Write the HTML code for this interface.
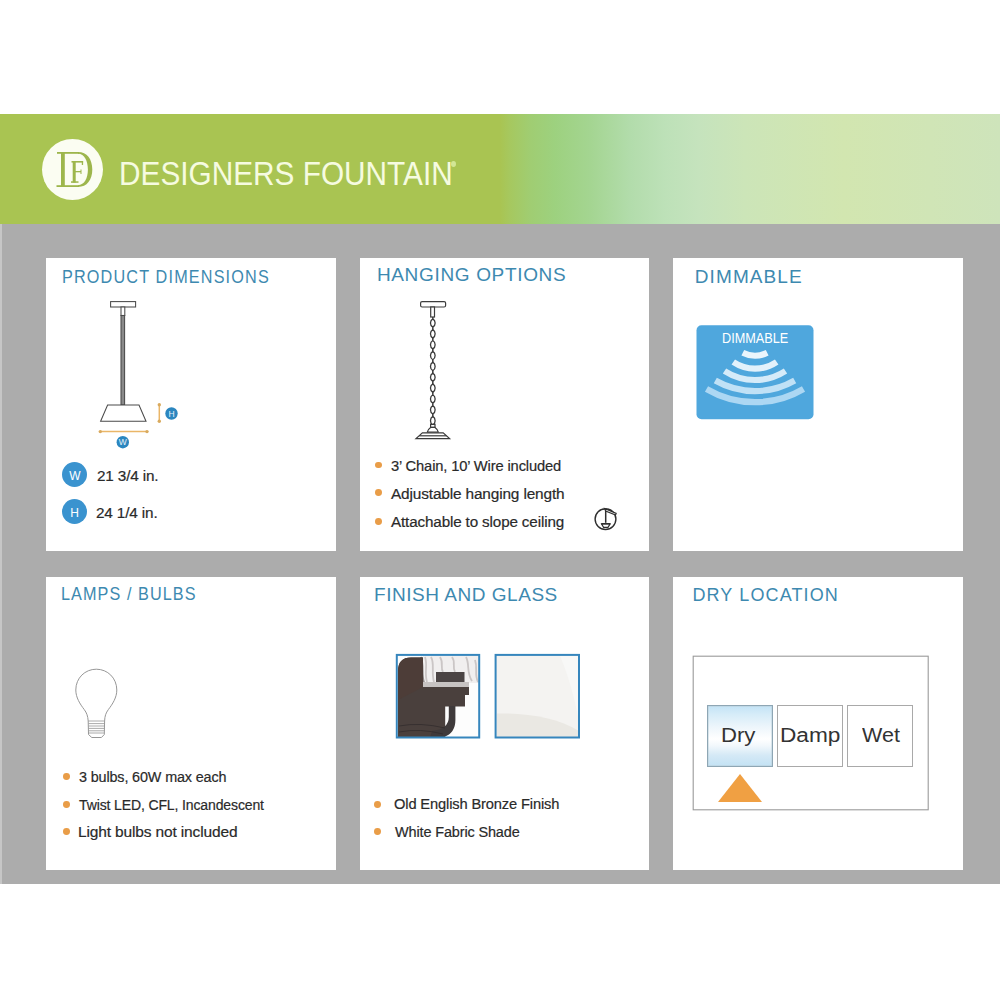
<!DOCTYPE html>
<html><head><meta charset="utf-8">
<style>
html,body{margin:0;padding:0;}
body{width:1000px;height:1000px;position:relative;overflow:hidden;background:#fff;font-family:"Liberation Sans",sans-serif;}
.abs{position:absolute;}
#banner{left:0;top:114px;width:1000px;height:110px;
background:linear-gradient(90deg,#a9c452 0px,#a9c452 500px,#a6c85f 510px,#a0cd72 530px,#9dd17f 555px,#a4d591 590px,#b2dcab 630px,#bde1b8 665px,#c5e3bd 698px,#cce5b8 745px,#d2e6b0 844px,#d0e5b6 930px,#cee4bb 1000px);}
#gray{left:0;top:224px;width:1000px;height:660px;background:#acacac;}
.card{position:absolute;background:#fff;width:290px;height:293px;}
.t{position:absolute;color:#3d89b0;font-size:19px;white-space:nowrap;line-height:1;transform-origin:0 0;}
.txt{position:absolute;color:#2a2a2a;-webkit-text-stroke:0.2px #2a2a2a;font-size:15.5px;white-space:nowrap;line-height:1;transform-origin:0 0;}
.dot{position:absolute;width:6.8px;height:6.8px;border-radius:50%;background:#e99d48;}
svg{position:absolute;left:0;top:0;}
</style></head><body>
<div id="banner" class="abs"></div>
<div id="gray" class="abs"></div>

<!-- logo -->
<div class="abs" style="left:42px;top:139px;width:61px;height:61px;border-radius:50%;background:#fbfdf2;"></div>
<div class="abs" id="brand" style="left:119px;top:157px;font-size:33px;color:#f6fbe0;white-space:nowrap;line-height:1;transform-origin:0 0;transform:scaleX(0.9026);">DESIGNERS FOUNTAIN</div>

<div class="abs" style="left:451px;top:161px;width:5px;height:6px;border-radius:50%;background:#d6ea9c;opacity:0.9;"></div>
<div class="abs" style="left:0;top:224px;width:1.5px;height:660px;background:#c6c6c6;"></div>
<!-- cards -->
<div class="card" style="left:46px;top:258px;"></div>
<div class="card" style="left:360px;top:258px;width:289px;"></div>
<div class="card" style="left:673px;top:258px;"></div>
<div class="card" style="left:46px;top:577px;"></div>
<div class="card" style="left:360px;top:577px;width:289px;"></div>
<div class="card" style="left:673px;top:577px;"></div>

<div class="t" id="t1" style="left:62.00px;top:268.2px;font-size:18px;letter-spacing:1.294px;transform:scaleX(0.9);">PRODUCT DIMENSIONS</div>
<div class="t" id="t2" style="left:376.90px;top:265.0px;letter-spacing:0.665px;">HANGING OPTIONS</div>
<div class="t" id="t3" style="left:694.80px;top:266.6px;letter-spacing:1.085px;">DIMMABLE</div>
<div class="t" id="t4" style="left:61.20px;top:584.5px;font-size:18px;letter-spacing:1.200px;transform:scaleX(0.9);">LAMPS / BULBS</div>
<div class="t" id="t5" style="left:374.00px;top:585.4px;letter-spacing:0.533px;">FINISH AND GLASS</div>
<div class="t" id="t6" style="left:692.40px;top:585.6px;font-size:18px;letter-spacing:1.126px;">DRY LOCATION</div>

<!-- card1 text -->
<div class="abs" style="left:62px;top:462px;width:25px;height:25px;border-radius:50%;background:#3a93cf;"></div>
<div class="abs" style="left:62px;top:499px;width:25px;height:25px;border-radius:50%;background:#3a93cf;"></div>
<div class="abs" style="left:62.5px;top:469.5px;width:25px;text-align:center;color:#fff;font-size:12px;line-height:1;">W</div>
<div class="abs" style="left:62px;top:507px;width:25px;text-align:center;color:#fff;font-size:12px;line-height:1;">H</div>
<div class="txt" id="b1" style="left:96.60px;top:468.2px;letter-spacing:-0.15px;transform:scaleX(0.9870);">21 3/4 in.</div>
<div class="txt" id="b2" style="left:95.82px;top:505.2px;letter-spacing:-0.15px;transform:scaleX(0.9884);">24 1/4 in.</div>

<!-- card2 text -->
<div class="txt" id="b3" style="left:391.00px;top:457.6px;letter-spacing:-0.15px;transform:scaleX(0.9497);">3’ Chain, 10’ Wire included</div>
<div class="txt" id="b4" style="left:391.00px;top:486.0px;letter-spacing:-0.15px;transform:scaleX(0.9932);">Adjustable hanging length</div>
<div class="txt" id="b5" style="left:391.00px;top:514.0px;letter-spacing:-0.15px;transform:scaleX(0.9829);">Attachable to slope ceiling</div>

<!-- card4 text -->
<div class="txt" id="b6" style="left:78.84px;top:769.0px;letter-spacing:-0.15px;transform:scaleX(0.9279);">3 bulbs, 60W max each</div>
<div class="txt" id="b7" style="left:78.86px;top:796.5px;letter-spacing:-0.15px;transform:scaleX(0.9049);">Twist LED, CFL, Incandescent</div>
<div class="txt" id="b8" style="left:77.79px;top:824.0px;letter-spacing:-0.15px;transform:scaleX(1.0007);">Light bulbs not included</div>

<!-- card5 text -->
<div class="txt" id="b9" style="left:394.05px;top:796.4px;letter-spacing:-0.15px;transform:scaleX(0.9469);">Old English Bronze Finish</div>
<div class="txt" id="b10" style="left:394.61px;top:824.0px;letter-spacing:-0.15px;transform:scaleX(0.9338);">White Fabric Shade</div>

<div class="dot" style="left:374.9px;top:461.7px;"></div>
<div class="dot" style="left:374.9px;top:489.2px;"></div>
<div class="dot" style="left:374.9px;top:517.9px;"></div>
<div class="dot" style="left:63.1px;top:772.9px;"></div>
<div class="dot" style="left:63.1px;top:800.9px;"></div>
<div class="dot" style="left:63.1px;top:827.8px;"></div>
<div class="dot" style="left:374.1px;top:801.0px;"></div>
<div class="dot" style="left:374.4px;top:828.1px;"></div>
<!-- card6 -->

<div class="abs" style="left:707px;top:705px;width:64px;height:60px;border:1px solid #8ea6b4;box-shadow:inset 0 0 0 0.5px #b9cdd8;background:linear-gradient(180deg,#c3e3f6 0%,#d6ecf8 14%,#ecf5fb 34%,#ffffff 55%,#f2f8fc 66%,#d5e9f6 82%,#c3e2f4 100%);"></div>
<div class="abs" style="left:777px;top:705px;width:64px;height:60px;border:1px solid #a9a9a9;"></div>
<div class="abs" style="left:847px;top:705px;width:64px;height:60px;border:1px solid #a9a9a9;"></div>
<div class="txt" id="d1" style="left:720.8px;top:725px;font-size:20px;color:#333;letter-spacing:0px;transform:scaleX(1.107);-webkit-text-stroke:0px;">Dry</div>
<div class="txt" id="d2" style="left:780.2px;top:725px;font-size:20px;color:#333;letter-spacing:0px;transform:scaleX(1.133);-webkit-text-stroke:0px;">Damp</div>
<div class="txt" id="d3" style="left:862.2px;top:725px;font-size:20px;color:#333;letter-spacing:0px;transform:scaleX(1.076);-webkit-text-stroke:0px;">Wet</div>
<svg width="1000" height="1000" viewBox="0 0 1000 1000">
  <!-- logo DF -->
  <g fill="#9db64c">
    <rect x="61" y="152.5" width="3.8" height="34.5"/>
    <rect x="57" y="152" width="22" height="1.8"/>
    <rect x="56.5" y="185.2" width="22.5" height="1.8"/>
    <path d="M78,152 C87,152 92.3,159 92.3,169.6 C92.3,180 87,187 78,187 L78,185.2 C84.5,185.2 87.9,178 87.9,169.6 C87.9,161 84.5,153.8 78,153.8 Z"/>
    <rect x="72.7" y="161" width="3" height="21.6"/>
    <rect x="71.5" y="161" width="11.6" height="1.6"/>
    <rect x="81.8" y="161" width="1.3" height="4"/>
    <rect x="74" y="171" width="7" height="1.3"/>
    <rect x="80.5" y="169.5" width="1" height="4.5"/>
    <rect x="71" y="181.3" width="7.5" height="1.5"/>
  </g>
  <!-- card1 pendant -->
  <g stroke="#4a4a4a" stroke-width="1.05" fill="#fff">
    <rect x="110.6" y="301.6" width="25" height="5.4"/>
    <rect x="121" y="307" width="3.8" height="8.5"/>
    <rect x="121" y="315.5" width="3.6" height="89.5" fill="#8a8a8a"/>
    <polygon points="107.6,405 139,405 146,421.2 100.6,421.2"/>
  </g>
  <g stroke="#eab668" stroke-width="1.5">
    <line x1="159.3" y1="404.5" x2="159.3" y2="421.5"/>
    <line x1="100" y1="431.6" x2="147.3" y2="431.6"/>
  </g>
  <g fill="#d9aa5e">
    <circle cx="159.3" cy="404.8" r="1.7"/>
    <circle cx="159.3" cy="421.2" r="1.7"/>
    <circle cx="100.3" cy="431.6" r="1.7"/>
    <circle cx="147" cy="431.6" r="1.7"/>
  </g>
  <circle cx="171.5" cy="413.5" r="6.2" fill="#2b86bf"/>
  <circle cx="122.8" cy="442.2" r="6.2" fill="#2b86bf"/>
  <text x="171.5" y="416.6" font-size="8.5" fill="#e6f2fa" text-anchor="middle" font-family="Liberation Sans">H</text>
  <text x="122.8" y="445.3" font-size="8.5" fill="#e6f2fa" text-anchor="middle" font-family="Liberation Sans">W</text>
  <!-- card2 chain pendant -->
  <g stroke="#3d3d3d" stroke-width="1.2" fill="#fff">
    <rect x="420.6" y="301.6" width="25" height="5.4" rx="1.5"/>
    <rect x="430.7" y="307" width="3.8" height="10"/>
  </g>
  <path d="M432.8,318.80 C435.9,320.40 435.9,325.60 432.8,327.20 C429.7,325.60 429.7,320.40 432.8,318.80 Z" fill="none" stroke="#3a3a3a" stroke-width="1.3"/><line x1="432.8" y1="327.20" x2="432.8" y2="329.65" stroke="#3a3a3a" stroke-width="1.5"/><path d="M432.8,329.65 C435.9,331.25 435.9,336.45 432.8,338.05 C429.7,336.45 429.7,331.25 432.8,329.65 Z" fill="none" stroke="#3a3a3a" stroke-width="1.3"/><line x1="432.8" y1="338.05" x2="432.8" y2="340.50" stroke="#3a3a3a" stroke-width="1.5"/><path d="M432.8,340.50 C435.9,342.10 435.9,347.30 432.8,348.90 C429.7,347.30 429.7,342.10 432.8,340.50 Z" fill="none" stroke="#3a3a3a" stroke-width="1.3"/><line x1="432.8" y1="348.90" x2="432.8" y2="351.35" stroke="#3a3a3a" stroke-width="1.5"/><path d="M432.8,351.35 C435.9,352.95 435.9,358.15 432.8,359.75 C429.7,358.15 429.7,352.95 432.8,351.35 Z" fill="none" stroke="#3a3a3a" stroke-width="1.3"/><line x1="432.8" y1="359.75" x2="432.8" y2="362.20" stroke="#3a3a3a" stroke-width="1.5"/><path d="M432.8,362.20 C435.9,363.80 435.9,369.00 432.8,370.60 C429.7,369.00 429.7,363.80 432.8,362.20 Z" fill="none" stroke="#3a3a3a" stroke-width="1.3"/><line x1="432.8" y1="370.60" x2="432.8" y2="373.05" stroke="#3a3a3a" stroke-width="1.5"/><path d="M432.8,373.05 C435.9,374.65 435.9,379.85 432.8,381.45 C429.7,379.85 429.7,374.65 432.8,373.05 Z" fill="none" stroke="#3a3a3a" stroke-width="1.3"/><line x1="432.8" y1="381.45" x2="432.8" y2="383.90" stroke="#3a3a3a" stroke-width="1.5"/><path d="M432.8,383.90 C435.9,385.50 435.9,390.70 432.8,392.30 C429.7,390.70 429.7,385.50 432.8,383.90 Z" fill="none" stroke="#3a3a3a" stroke-width="1.3"/><line x1="432.8" y1="392.30" x2="432.8" y2="394.75" stroke="#3a3a3a" stroke-width="1.5"/><path d="M432.8,394.75 C435.9,396.35 435.9,401.55 432.8,403.15 C429.7,401.55 429.7,396.35 432.8,394.75 Z" fill="none" stroke="#3a3a3a" stroke-width="1.3"/><line x1="432.8" y1="403.15" x2="432.8" y2="405.60" stroke="#3a3a3a" stroke-width="1.5"/><path d="M432.8,405.60 C435.9,407.20 435.9,412.40 432.8,414.00 C429.7,412.40 429.7,407.20 432.8,405.60 Z" fill="none" stroke="#3a3a3a" stroke-width="1.3"/><line x1="432.8" y1="414.00" x2="432.8" y2="416.45" stroke="#3a3a3a" stroke-width="1.5"/><path d="M432.8,416.45 C435.9,418.05 435.9,423.25 432.8,424.85 C429.7,423.25 429.7,418.05 432.8,416.45 Z" fill="none" stroke="#3a3a3a" stroke-width="1.3"/><line x1="432.8" y1="317" x2="432.8" y2="318.8" stroke="#3a3a3a" stroke-width="1.5"/>
  
  <g stroke="#3a3a3a" stroke-width="1.2" fill="#fff">
    <rect x="430.6" y="424.4" width="4.4" height="3" />
    <path d="M430.6,427.4 C428.8,428.6 427.6,430.2 427.3,432.2 L438.3,432.2 C438,430.2 436.8,428.6 435,427.4 Z"/>
    <path d="M422.4,432.8 L443.2,432.8 L449.6,438.6 L416,438.6 Z"/>
    <line x1="419.2" y1="435.8" x2="446.4" y2="435.8"/>
  </g>
  <!-- slope icon -->
  <g stroke="#2e2e2e" stroke-width="1.4" fill="none">
    <circle cx="605.5" cy="519.1" r="10.4"/>
    <path d="M604.6,508.6 L616.2,513.4 L615.6,515 L605.6,511 Z" stroke-width="1.1" fill="#fff"/>
    <line x1="605.7" y1="510.5" x2="605.7" y2="522.8" stroke-width="1.5"/>
    <path d="M601.6,524 L610,524 L608,527.4 L603.6,527.4 Z" stroke-width="1.2" fill="#fff"/>
    <line x1="601.2" y1="523.7" x2="610.4" y2="523.7" stroke-width="1.4"/>
  </g>
  <!-- dimmable badge -->
  <rect x="696.5" y="325.2" width="117" height="94" rx="5" fill="#4fa7dd"/>
  <path d="M742.8,352.7 A27.26,27.26 0 0 0 767.2,352.7" stroke="#eaf5fc" stroke-width="6.2" fill="none"/><path d="M733.3,362.0 A38.76,38.76 0 0 0 776.7,362.0" stroke="#e2f1fb" stroke-width="6.2" fill="none"/><path d="M724.5,371.0 A56.31,56.31 0 0 0 785.5,371.0" stroke="#d5ebf9" stroke-width="6.2" fill="none"/><path d="M715.3,380.5 A80.06,80.06 0 0 0 794.7,380.5" stroke="#c0e1f6" stroke-width="6.2" fill="none"/><path d="M706.5,389.0 A95.55,95.55 0 0 0 803.5,389.0" stroke="#acd7f3" stroke-width="6.2" fill="none"/>
  <!-- bulb -->
  <g stroke="#979797" stroke-width="1" fill="none">
    <path d="M88.2,721 C87.8,716 86.8,713 84.2,709.5 C80,704 75.8,697.5 75.8,690 C75.8,678 85,669.2 96.3,669.2 C107.6,669.2 116.8,678 116.8,690 C116.8,697.5 112.6,704 108.4,709.5 C105.8,713 104.8,716 104.6,721"/>
    <path d="M88.2,721 L104.6,721 M88.5,723.6 L104.3,723.6 M88.5,726 L104.3,726 M88.5,728.4 L104.3,728.4 M88.5,730.8 L104.3,730.8 M88.5,733 L104.3,733" stroke="#a0a0a0" stroke-width="0.9"/>
    <path d="M88.2,721 L88.5,734.5 L91.8,737.5 L101.4,737.5 L104.3,734.5 L104.6,721"/>
  </g>
  <!-- swatches -->
  <defs>
    <clipPath id="c1"><rect x="397" y="655" width="82" height="82"/></clipPath>
    <linearGradient id="gl" x1="0" y1="0" x2="1" y2="1">
      <stop offset="0" stop-color="#e4e2e2"/><stop offset="0.5" stop-color="#b9b6b6"/><stop offset="1" stop-color="#eeeeee"/>
    </linearGradient>
    <linearGradient id="sh" x1="0" y1="0" x2="0" y2="1">
      <stop offset="0" stop-color="#f6f5f1"/><stop offset="0.7" stop-color="#f1efea"/><stop offset="1" stop-color="#e9e6de"/>
    </linearGradient>
  </defs>
  <g clip-path="url(#c1)">
    <rect x="396" y="654" width="84" height="84" fill="#fdfdfd"/>
    <rect x="423" y="656" width="56" height="27" fill="#f1efef"/>
    <path d="M425,657 C428,665 424,672 427,682 M431,657 C435,664 431,672 434,682 M440,657 C444,663 440,668 443,672 M452,657 C456,662 452,667 455,672 M466,657 C470,664 466,672 472,681 M475,660 C478,668 474,674 478,682" stroke="#bdb8b8" stroke-width="1.8" fill="none" opacity="0.75"/>
    <path d="M421,657 C424,666 421,674 424,683" stroke="#8d8787" stroke-width="2" fill="none"/>
    <path d="M398,738 L398,671 Q398,657.5 411,657.5 L423,657.5 L423,687 L469,687 L469,695 L465,695 L465,706.5 L445.2,706.5 L445.2,738 Z" fill="#4a403d"/>
    <path d="M398,671 Q398,657.5 411,657.5 L423,657.5 L423,687 L398,700 Z" fill="#4d3d38"/>
    <rect x="436" y="672" width="28.5" height="10.5" fill="#4b4444"/>
    <rect x="423" y="682" width="46" height="5" fill="#c7c3c2"/>
    <path d="M448.8,706 L455.4,706 L455.4,720 Q455.4,733 444,737 L430,738 L432,731 Q448.8,729 448.8,717 Z" fill="#3f3a3b"/>
    <path d="M399,726 Q420,722 445,728 M399,732 Q420,728 443,734" stroke="#2f2a2b" stroke-width="1" fill="none" opacity="0.7"/>
  </g>
  
  <rect x="496" y="655" width="83" height="82" fill="#f4f3f1"/>
  <path d="M560,656 C567,672 573,692 578,716 L579,656 Z" fill="#f8f8f7"/>
  <path d="M497,713.5 C528,713 558,718 579,731 L579,737 L497,737 Z" fill="#eae8e3"/>
  <rect x="495.6" y="654.9" width="83.4" height="82.6" fill="none" stroke="#3686bd" stroke-width="2"/>
  <rect x="396.8" y="654.9" width="82.4" height="82.6" fill="none" stroke="#3686bd" stroke-width="2"/>
  <rect x="693.2" y="656.2" width="235" height="153.6" fill="none" stroke="#9a9a9a" stroke-width="1.1"/>
  <!-- triangle -->
  <polygon points="740,774 718,802 762,802" fill="#f0a043"/>
</svg>

<div class="abs" id="bt" style="left:722px;top:331px;font-size:14.5px;transform:scaleX(0.875);transform-origin:0 0;color:#fff;white-space:nowrap;line-height:1;">DIMMABLE</div>
</body></html>
